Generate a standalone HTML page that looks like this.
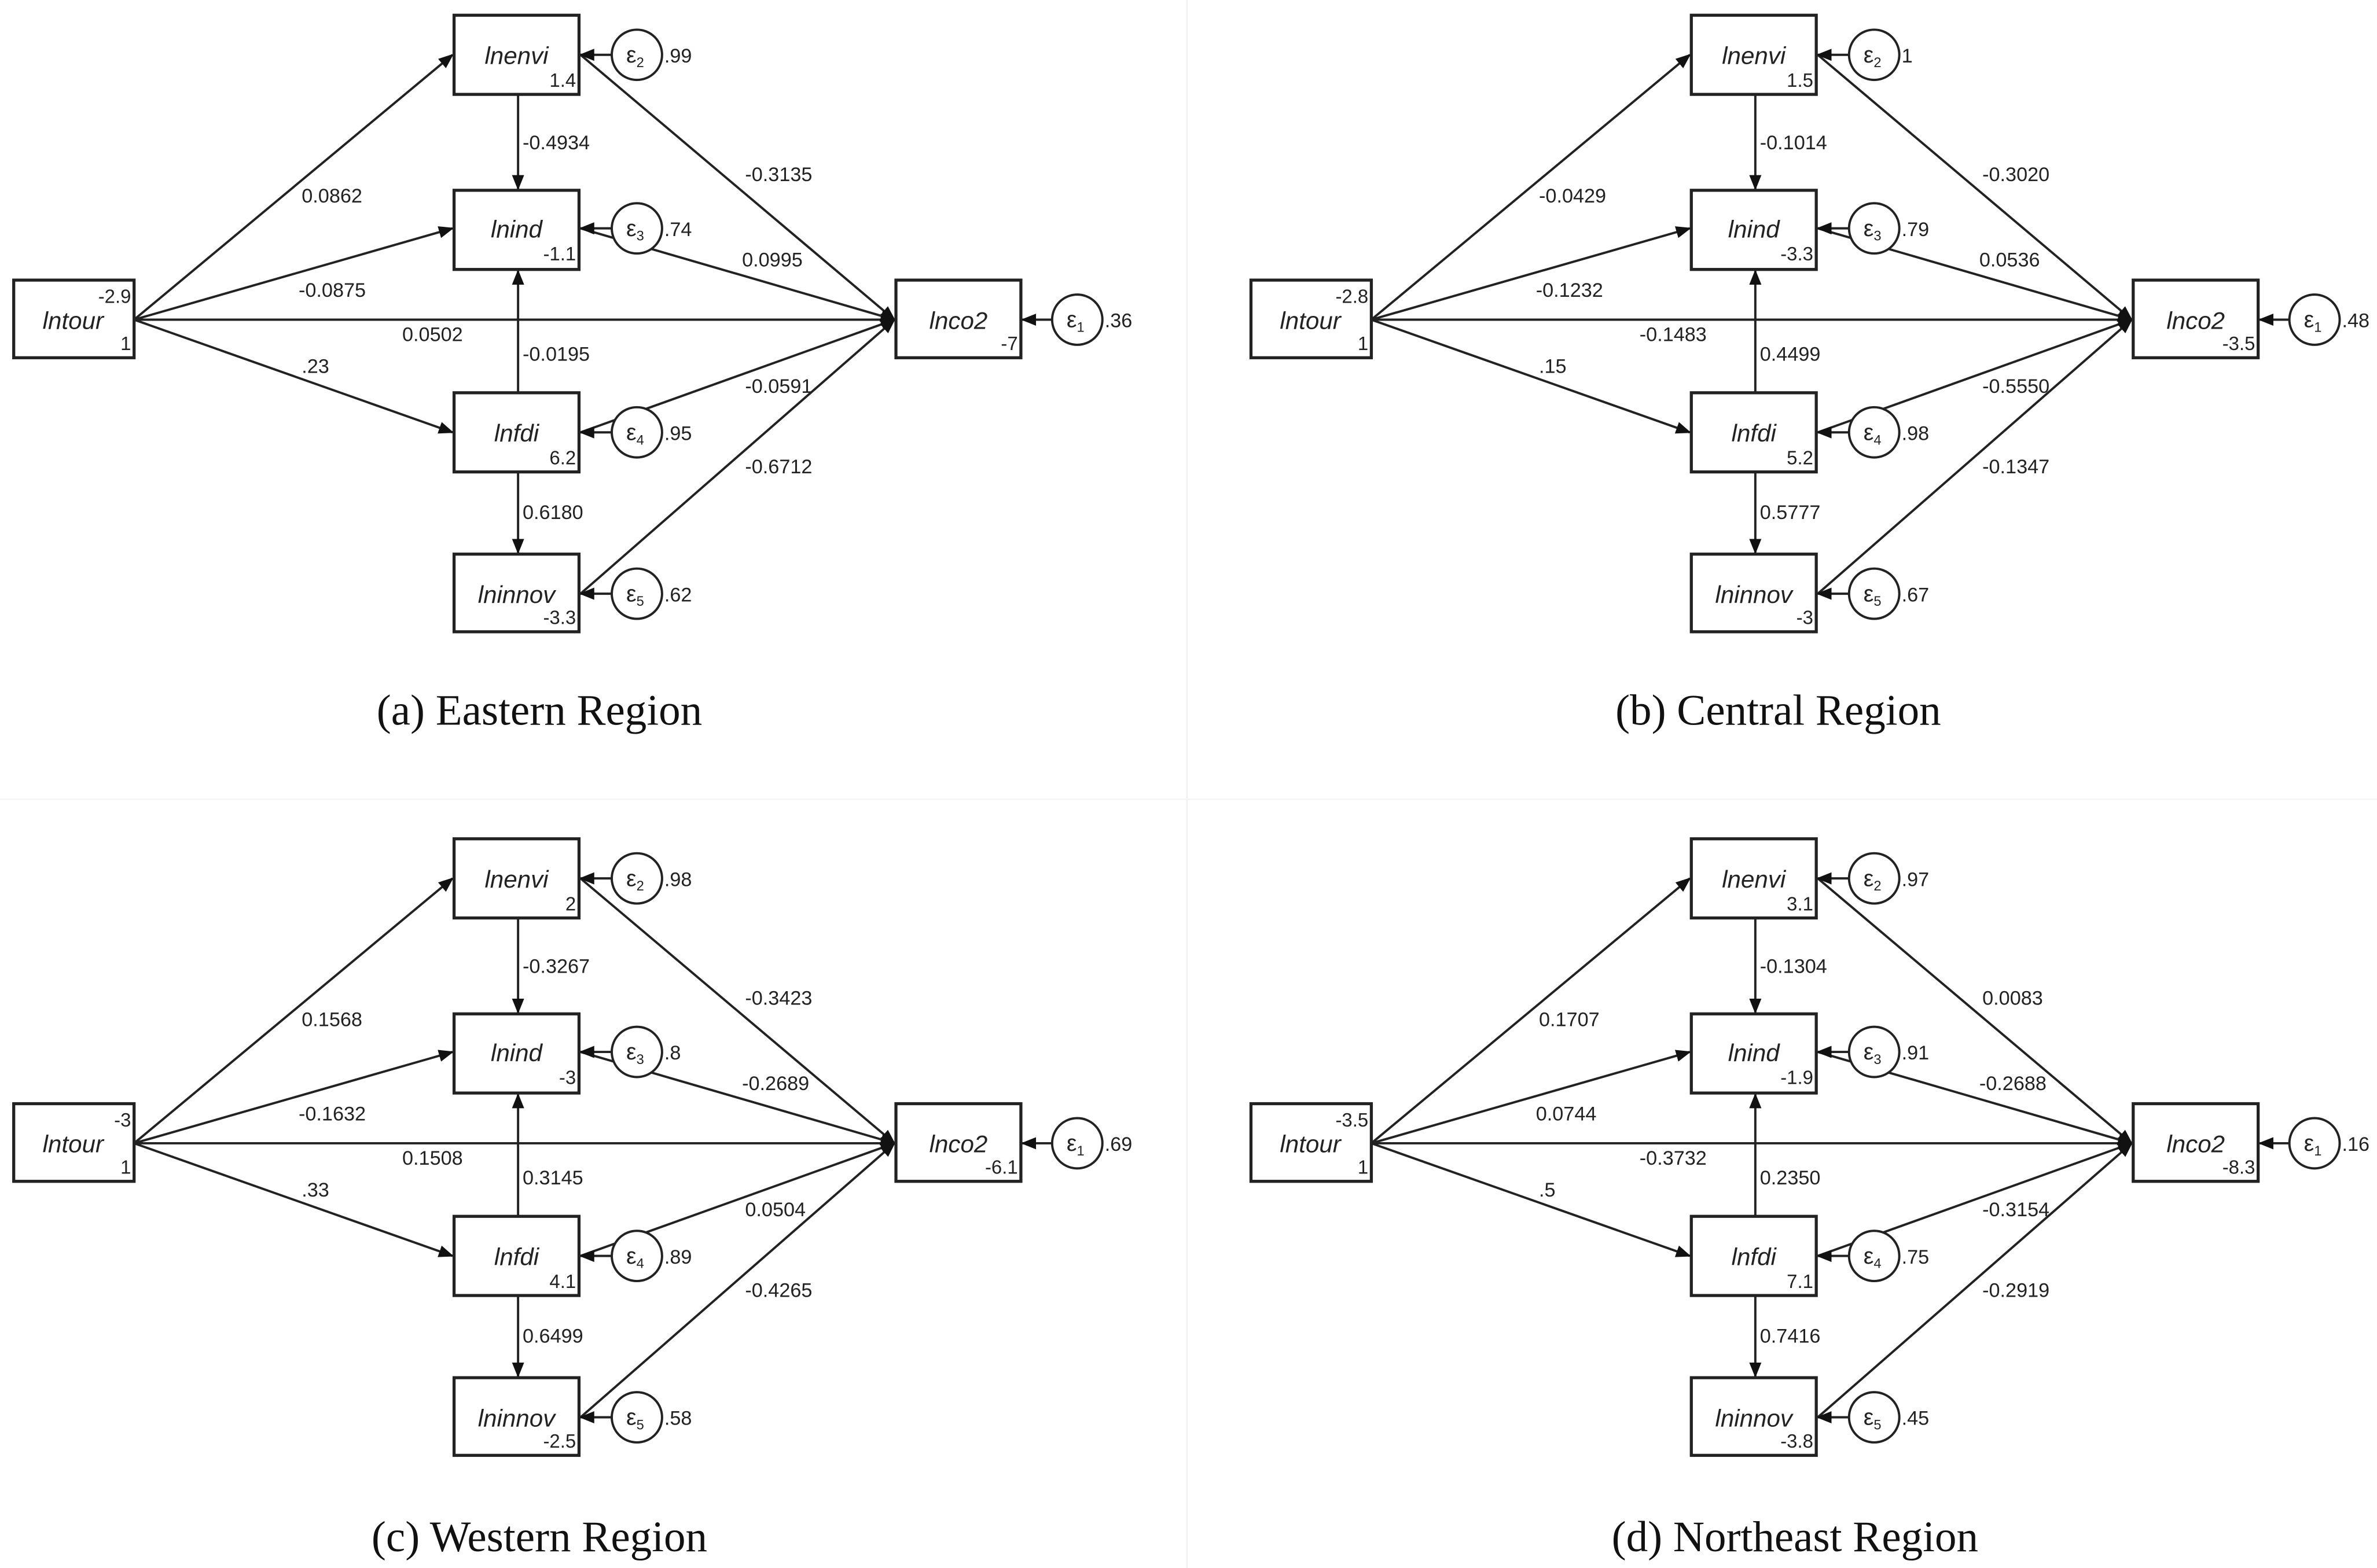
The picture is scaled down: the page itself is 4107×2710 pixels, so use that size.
<!DOCTYPE html>
<html><head><meta charset="utf-8"><style>
html,body{margin:0;padding:0;background:#fff;}
svg{display:block;}
text{font-family:"Liberation Sans",Arial,sans-serif;fill:#222;}
.n{font-size:13px;}
.b{font-size:16px;font-style:italic;}
.v{font-size:12.5px;}
.e{font-size:15px;}
.cap{font-family:"Liberation Serif","Times New Roman",serif;font-size:28.5px;fill:#111;}
</style></head><body>
<svg width="4107" height="2710" viewBox="0 0 1560 1030" preserveAspectRatio="none" xmlns="http://www.w3.org/2000/svg">
<defs>
<marker id="ah" markerUnits="userSpaceOnUse" markerWidth="10" markerHeight="8" refX="9" refY="4" orient="auto">
<path d="M0,0 L10,4 L0,8 z" fill="#111"/>
</marker>
<g id="diag" stroke="#222" fill="none">
<g stroke-width="1.5" marker-end="url(#ah)">
<line x1="88" y1="210" x2="297" y2="36"/>
<line x1="88" y1="210" x2="297" y2="150"/>
<line x1="88" y1="210" x2="587" y2="210"/>
<line x1="88" y1="210" x2="297" y2="284"/>
<line x1="340" y1="62" x2="340" y2="124"/>
<line x1="340" y1="258" x2="340" y2="178"/>
<line x1="340" y1="310" x2="340" y2="363"/>
<line x1="381" y1="36" x2="587" y2="210"/>
<line x1="381" y1="150" x2="587" y2="210"/>
<line x1="381" y1="284" x2="587" y2="210"/>
<line x1="381" y1="390" x2="587" y2="210"/>
<line x1="401" y1="36" x2="381" y2="36"/>
<line x1="401" y1="150" x2="381" y2="150"/>
<line x1="401" y1="284" x2="381" y2="284"/>
<line x1="401" y1="390" x2="381" y2="390"/>
<line x1="690" y1="210" x2="671" y2="210"/>
</g>
<g stroke-width="2" fill="#fff">
<rect x="9" y="184" width="79" height="51"/>
<rect x="298" y="10" width="82" height="52"/>
<rect x="298" y="125" width="82" height="52"/>
<rect x="298" y="258" width="82" height="52"/>
<rect x="298" y="364" width="82" height="51"/>
<rect x="588" y="184" width="82" height="51"/>
</g>
<g stroke-width="1.5" fill="#fff">
<circle cx="418" cy="36" r="16.5"/>
<circle cx="418" cy="150" r="16.5"/>
<circle cx="418" cy="284" r="16.5"/>
<circle cx="418" cy="390" r="16.5"/>
<circle cx="707" cy="210" r="16.5"/>
</g>
</g>
<g id="names">
<text class="b" x="48" y="216" text-anchor="middle">lntour</text>
<text class="b" x="339" y="42" text-anchor="middle">lnenvi</text>
<text class="b" x="339" y="156" text-anchor="middle">lnind</text>
<text class="b" x="339" y="290" text-anchor="middle">lnfdi</text>
<text class="b" x="339" y="396" text-anchor="middle">lninnov</text>
<text class="b" x="629" y="216" text-anchor="middle">lnco2</text>
<text class="e" x="411" y="41">ε<tspan font-size="9" dy="3">2</tspan></text>
<text class="e" x="411" y="155">ε<tspan font-size="9" dy="3">3</tspan></text>
<text class="e" x="411" y="289">ε<tspan font-size="9" dy="3">4</tspan></text>
<text class="e" x="411" y="395">ε<tspan font-size="9" dy="3">5</tspan></text>
<text class="e" x="700" y="215">ε<tspan font-size="9" dy="3">1</tspan></text>
</g>
</defs>

<line x1="779" y1="0" x2="779" y2="1030" stroke="#f0f0f0" stroke-width="1"/>
<line x1="0" y1="525" x2="1560" y2="525" stroke="#f4f4f4" stroke-width="1"/>

<!-- Panel a -->
<g>
<use href="#diag"/><use href="#names"/>
<g class="v" text-anchor="end">
<text x="86" y="199">-2.9</text><text x="86" y="230">1</text>
<text x="378" y="57">1.4</text><text x="378" y="171">-1.1</text><text x="378" y="305">6.2</text><text x="378" y="410">-3.3</text>
<text x="668" y="230">-7</text>
</g>
<g class="n">
<text x="436" y="41">.99</text><text x="436" y="155">.74</text><text x="436" y="289">.95</text><text x="436" y="395">.62</text><text x="725" y="215">.36</text>
<text x="198" y="133">0.0862</text><text x="196" y="195">-0.0875</text><text x="264" y="224">0.0502</text><text x="198" y="245">.23</text>
<text x="343" y="98">-0.4934</text><text x="343" y="237">-0.0195</text><text x="343" y="341">0.6180</text>
<text x="489" y="119">-0.3135</text><text x="487" y="175">0.0995</text><text x="489" y="258">-0.0591</text><text x="489" y="311">-0.6712</text>
</g>
<text class="cap" x="354" y="476" text-anchor="middle">(a) Eastern Region</text>
</g>

<!-- Panel b -->
<g transform="translate(812,0)">
<use href="#diag"/><use href="#names"/>
<g class="v" text-anchor="end">
<text x="86" y="199">-2.8</text><text x="86" y="230">1</text>
<text x="378" y="57">1.5</text><text x="378" y="171">-3.3</text><text x="378" y="305">5.2</text><text x="378" y="410">-3</text>
<text x="668" y="230">-3.5</text>
</g>
<g class="n">
<text x="436" y="41">1</text><text x="436" y="155">.79</text><text x="436" y="289">.98</text><text x="436" y="395">.67</text><text x="725" y="215">.48</text>
<text x="198" y="133">-0.0429</text><text x="196" y="195">-0.1232</text><text x="264" y="224">-0.1483</text><text x="198" y="245">.15</text>
<text x="343" y="98">-0.1014</text><text x="343" y="237">0.4499</text><text x="343" y="341">0.5777</text>
<text x="489" y="119">-0.3020</text><text x="487" y="175">0.0536</text><text x="489" y="258">-0.5550</text><text x="489" y="311">-0.1347</text>
</g>
<text class="cap" x="355" y="476" text-anchor="middle">(b) Central Region</text>
</g>

<!-- Panel c -->
<g transform="translate(0,541)">
<use href="#diag"/><use href="#names"/>
<g class="v" text-anchor="end">
<text x="86" y="199">-3</text><text x="86" y="230">1</text>
<text x="378" y="57">2</text><text x="378" y="171">-3</text><text x="378" y="305">4.1</text><text x="378" y="410">-2.5</text>
<text x="668" y="230">-6.1</text>
</g>
<g class="n">
<text x="436" y="41">.98</text><text x="436" y="155">.8</text><text x="436" y="289">.89</text><text x="436" y="395">.58</text><text x="725" y="215">.69</text>
<text x="198" y="133">0.1568</text><text x="196" y="195">-0.1632</text><text x="264" y="224">0.1508</text><text x="198" y="245">.33</text>
<text x="343" y="98">-0.3267</text><text x="343" y="237">0.3145</text><text x="343" y="341">0.6499</text>
<text x="489" y="119">-0.3423</text><text x="487" y="175">-0.2689</text><text x="489" y="258">0.0504</text><text x="489" y="311">-0.4265</text>
</g>
<text class="cap" x="354" y="478" text-anchor="middle">(c) Western Region</text>
</g>

<!-- Panel d -->
<g transform="translate(812,541)">
<use href="#diag"/><use href="#names"/>
<g class="v" text-anchor="end">
<text x="86" y="199">-3.5</text><text x="86" y="230">1</text>
<text x="378" y="57">3.1</text><text x="378" y="171">-1.9</text><text x="378" y="305">7.1</text><text x="378" y="410">-3.8</text>
<text x="668" y="230">-8.3</text>
</g>
<g class="n">
<text x="436" y="41">.97</text><text x="436" y="155">.91</text><text x="436" y="289">.75</text><text x="436" y="395">.45</text><text x="725" y="215">.16</text>
<text x="198" y="133">0.1707</text><text x="196" y="195">0.0744</text><text x="264" y="224">-0.3732</text><text x="198" y="245">.5</text>
<text x="343" y="98">-0.1304</text><text x="343" y="237">0.2350</text><text x="343" y="341">0.7416</text>
<text x="489" y="119">0.0083</text><text x="487" y="175">-0.2688</text><text x="489" y="258">-0.3154</text><text x="489" y="311">-0.2919</text>
</g>
<text class="cap" x="366" y="478" text-anchor="middle">(d) Northeast Region</text>
</g>
</svg>
</body></html>
